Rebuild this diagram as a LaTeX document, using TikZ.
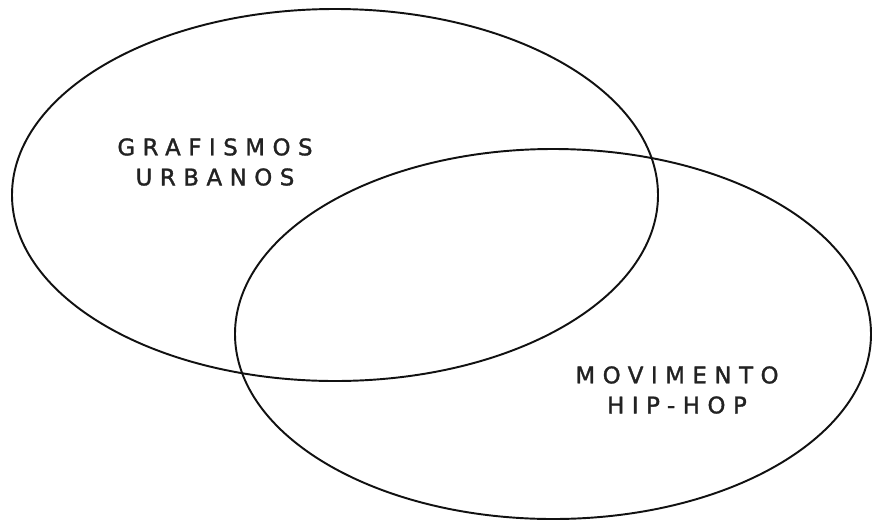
\documentclass[tikz,border=0pt]{standalone}
\usepackage{fontspec}
\newfontfamily\vennfont[LetterSpace=33,FakeBold=1.5]{DejaVu Sans}
\usepackage{xcolor}
\definecolor{cLine}{HTML}{111111}
\definecolor{cText}{HTML}{222222}
\usetikzlibrary{positioning,shapes.geometric}
\tikzset{
  venn-set/.style={draw=cLine,line width=1.1pt,ellipse,inner sep=0pt},
  % rótulos em caixa alta, espaçados
  venn-label/.style={text=cText,align=center,inner sep=0pt,
    font=\vennfont\fontsize{13}{17.1}\selectfont},
}
\begin{document}
\begin{tikzpicture}[x=0.2mm,y=-0.2mm]
  \useasboundingbox (0,0) rectangle (873,520);
  \node[venn-set,minimum width=129.2mm,minimum height=74.4mm] (graf) at (335,195) {};
  \node[venn-set,minimum width=127.2mm,minimum height=74mm]   (hip)  at (553,334) {};
  \node[venn-label] (graf-txt) at (215,162) {GRAFISMOS\\URBANOS};
  \node[venn-label] (hip-txt)  at (677,390) {MOVIMENTO\\HIP-HOP};
\end{tikzpicture}
\end{document}
